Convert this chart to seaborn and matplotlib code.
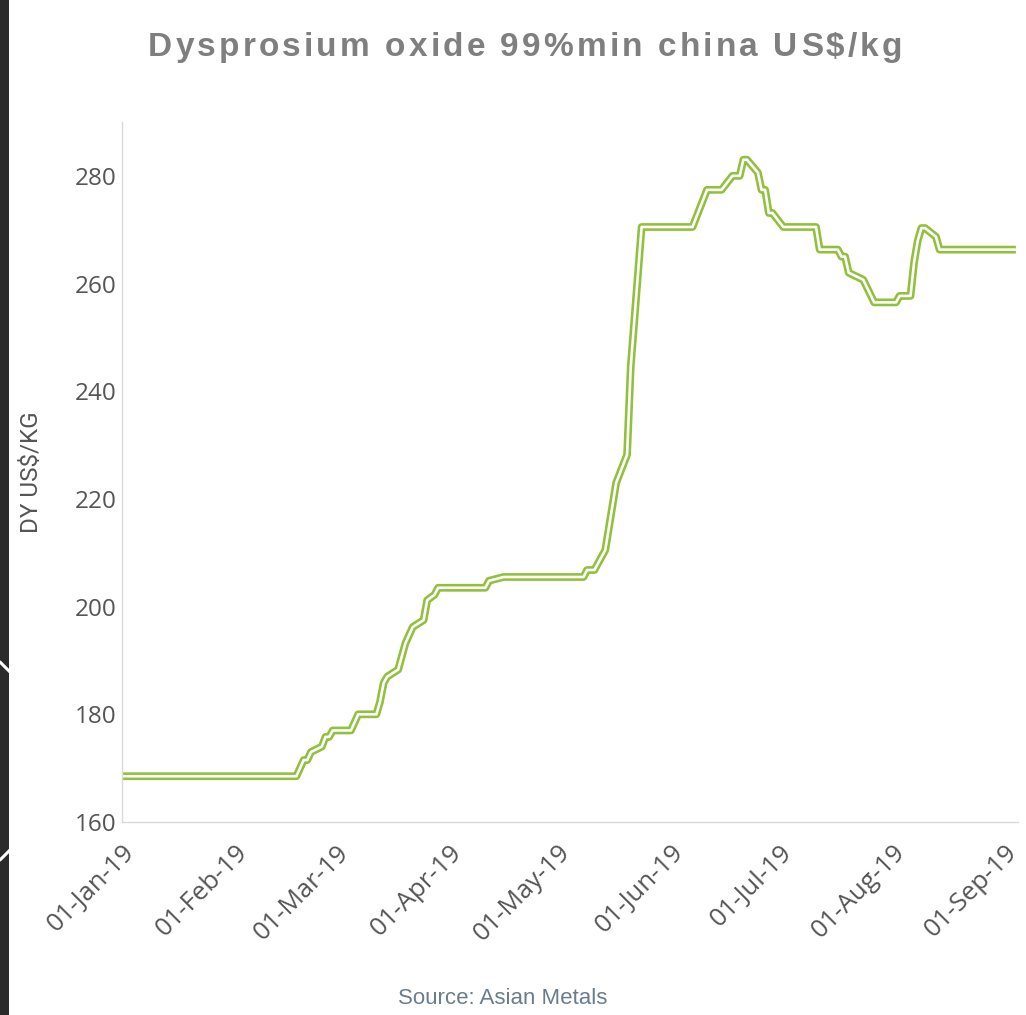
import matplotlib
matplotlib.use("Agg")
import matplotlib.pyplot as plt
import matplotlib.dates as mdates
from matplotlib import font_manager
from matplotlib.patches import Rectangle
from matplotlib.lines import Line2D
import seaborn as sns
import pandas as pd

# ---------------- data ----------------
dates = [
    "2019-01-01", "2019-02-18", "2019-02-20", "2019-02-21", "2019-02-22",
    "2019-02-25", "2019-02-26", "2019-02-27", "2019-02-28", "2019-03-05",
    "2019-03-07", "2019-03-12", "2019-03-13", "2019-03-14", "2019-03-15",
    "2019-03-18", "2019-03-20", "2019-03-22", "2019-03-25", "2019-03-26",
    "2019-03-28", "2019-03-29", "2019-04-11", "2019-04-12", "2019-04-16",
    "2019-05-08", "2019-05-09", "2019-05-11", "2019-05-14", "2019-05-17",
    "2019-05-20", "2019-05-21", "2019-05-24", "2019-06-07", "2019-06-11",
    "2019-06-15", "2019-06-18", "2019-06-20", "2019-06-21", "2019-06-22",
    "2019-06-25", "2019-06-26", "2019-06-27", "2019-06-28", "2019-06-29",
    "2019-07-02", "2019-07-11", "2019-07-12", "2019-07-17", "2019-07-18",
    "2019-07-19", "2019-07-20", "2019-07-24", "2019-07-27", "2019-08-02",
    "2019-08-03", "2019-08-06", "2019-08-07", "2019-08-08", "2019-08-09",
    "2019-08-10", "2019-08-13", "2019-08-14", "2019-09-04",
]
prices = [
    168.5, 168.5, 171.5, 171.5, 173.0,
    174.0, 175.8, 175.8, 177.0, 177.0,
    180.0, 180.0, 182.3, 185.8, 187.0,
    188.3, 193.2, 196.2, 197.5, 201.2,
    202.2, 203.5, 203.5, 204.8, 205.5,
    205.5, 206.8, 206.8, 210.5, 223.0,
    228.2, 244.5, 270.5, 270.5, 277.4,
    277.4, 280.0, 280.0, 283.0, 283.0,
    280.6, 277.4, 277.4, 273.1, 273.1,
    270.5, 270.5, 266.3, 266.3, 265.0,
    265.0, 262.0, 260.7, 256.5, 256.5,
    257.7, 257.7, 264.0, 268.0, 270.3,
    270.3, 268.7, 266.3, 266.3,
]
tick_dates = ["2019-01-01", "2019-02-01", "2019-03-01", "2019-04-01", "2019-05-01",
              "2019-06-01", "2019-07-01", "2019-08-01", "2019-09-01"]
y_ticks = [160, 180, 200, 220, 240, 260, 280]

title = "Dysprosium oxide 99%min china US$/kg"
y_label = "DY US$/KG"
source = "Source: Asian Metals"

df = pd.DataFrame({"date": pd.to_datetime(dates), "price": prices})

# ---------------- style ----------------
sns.set_theme(style="white")
plt.rcParams["font.family"] = ["Open Sans", "DejaVu Sans"]

names = {f.name for f in font_manager.fontManager.ttflist}
narrow = "Liberation Sans Narrow" if "Liberation Sans Narrow" in names else "Roboto"

W, H = 1026, 1015
fig = plt.figure(figsize=(W / 100, H / 100), dpi=100)
fig.patch.set_facecolor("white")
ax = fig.add_axes([122 / W, 1 - 822 / H, (1018 - 122) / W, (822 - 122) / H])
ax.set_facecolor("white")

green = "#90c03c"
sns.lineplot(data=df, x="date", y="price", ax=ax, color=green, linewidth=5.6,
             solid_joinstyle="round", solid_capstyle="butt")
sns.lineplot(data=df, x="date", y="price", ax=ax, color="white", linewidth=1.9,
             solid_joinstyle="round", solid_capstyle="butt")

ax.set_xlim(pd.Timestamp("2019-01-01"), pd.Timestamp("2019-09-04 14:00"))
ax.set_ylim(160, 290)
ax.set_yticks(y_ticks)
ax.set_xticks(pd.to_datetime(tick_dates))
ax.xaxis.set_major_formatter(mdates.DateFormatter("%d-%b-%y"))

ax.set_xlabel("")
ax.set_ylabel("")

for s in ["top", "right"]:
    ax.spines[s].set_visible(False)
for s in ["left", "bottom"]:
    ax.spines[s].set_color("#d9d9d9")
    ax.spines[s].set_linewidth(1.0)

ax.tick_params(axis="x", which="major", direction="in", length=9, width=1,
               color="#d9d9d9", pad=13, labelsize=18.5, labelcolor="#555555")
ax.tick_params(axis="y", which="major", length=0, pad=4, labelsize=17.5,
               labelcolor="#555555")
for lab in ax.get_xticklabels():
    lab.set_rotation(45)
    lab.set_ha("right")
    lab.set_va("top")
    lab.set_rotation_mode("anchor")

fig.text(32 / W, 1 - 472 / H, y_label, rotation=90, ha="center", va="center",
         fontsize=17.5, color="#555555", family=[narrow, "DejaVu Sans"])

fig.text(503 / W, 1 - 998 / H, source, ha="center", va="center", fontsize=16,
         color="#6b7d8c", family=["Liberation Sans", "DejaVu Sans"])

# letter-spaced bold title
tkw = dict(fontsize=24, fontweight="bold", color="#7f7f7f",
           family=["Liberation Sans", "DejaVu Sans"])
renderer = fig.canvas.get_renderer()


def text_w(s):
    t = fig.text(0, 0, s + "|", **tkw)
    w1 = t.get_window_extent(renderer).width
    t.remove()
    t = fig.text(0, 0, "|", **tkw)
    w2 = t.get_window_extent(renderer).width
    t.remove()
    return w1 - w2


target_left, target_right = 148, 902
full_w = text_w(title)
spacing = (target_right - target_left - full_w) / (len(title) - 1)
for i, ch in enumerate(title):
    if ch == " ":
        continue
    xpx = target_left + text_w(title[:i]) + i * spacing
    fig.text(xpx / W, 1 - 56 / H, ch, ha="left", va="baseline", **tkw)

# dark decorative band on the left edge
fig.patches.append(Rectangle((0, 0), 9 / W, 1, transform=fig.transFigure,
                             facecolor="#2b2b2b", edgecolor="none", zorder=0))
fig.lines.append(Line2D([0, 10 / W], [1 - 662 / H, 1 - 672 / H], transform=fig.transFigure,
                        color="white", linewidth=2.2))
fig.lines.append(Line2D([0, 10 / W], [1 - 860 / H, 1 - 850 / H], transform=fig.transFigure,
                        color="white", linewidth=2.2))

fig.savefig("out.png", dpi=100, facecolor="white")
